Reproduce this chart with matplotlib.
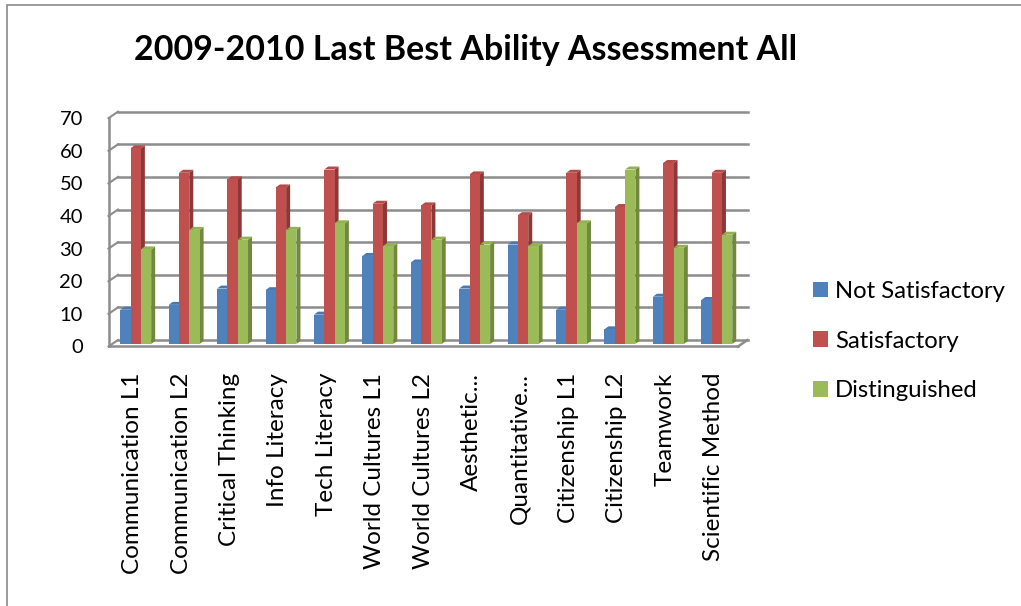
import matplotlib
matplotlib.use("Agg")
import matplotlib.pyplot as plt
from matplotlib.patches import Polygon, Patch, Rectangle
from matplotlib.transforms import ScaledTranslation
import numpy as np

categories = ["Communication L1", "Communication L2", "Critical Thinking", "Info Literacy",
              "Tech Literacy", "World Cultures L1", "World Cultures L2", "Aesthetic...",
              "Quantitative...", "Citizenship L1", "Citizenship L2", "Teamwork", "Scientific Method"]
not_satisfactory = [10.5, 12, 17, 16.5, 9, 27, 25, 17, 30.5, 10.5, 4.5, 14.5, 13.5]
satisfactory = [60, 52.5, 50.5, 48, 53.5, 43, 42.5, 52, 39.5, 52.5, 42, 55.5, 52.5]
distinguished = [29, 35, 32, 35, 37, 30, 32, 30.5, 30, 37, 53.5, 29.5, 33.5]
series_names = ["Not Satisfactory", "Satisfactory", "Distinguished"]
yticks = [0, 10, 20, 30, 40, 50, 60, 70]
title = "2009-2010 Last Best Ability Assessment All"

front_cols = ["#4F81BD", "#C0504D", "#9BBB59"]
side_cols = ["#385D8A", "#8C3836", "#71893F"]
top_cols = ["#4A79B1", "#B44B48", "#92B153"]

W, H = 1021, 606
fig = plt.figure(figsize=(W / 100, H / 100), dpi=100)
plt.rcParams['font.family'] = ['Lato', 'DejaVu Sans']

# chart border
fig.patches.append(Rectangle((7 / W, -0.05), 1.1, 1 - 5 / H + 0.05, transform=fig.transFigure,
                             fill=False, edgecolor="#8a8a8a", linewidth=1.2))

x_left, x_right = 108.5, 738.0
y0_px, y70_px = 346.5, 118.2
ax = fig.add_axes([x_left / W, 1 - y0_px / H, (x_right - x_left) / W, (y0_px - y70_px) / H])
n = len(categories)
ax.set_xlim(-0.5, n - 0.5)
ax.set_ylim(0, 70)
ax.set_facecolor("none")

gray = "#8c8c8c"
px_x = (x_right - x_left) / n
px_y = (y0_px - y70_px) / 70.0

# back wall offset (pixels)
back = ScaledTranslation(9.5 / 100, 6.5 / 100, fig.dpi_scale_trans)
tb = ax.transData + back
for v in yticks:
    ax.plot([-0.5, n - 0.5], [v, v], color=gray, lw=1.8, transform=tb, clip_on=False, zorder=1)
    # left wall diagonal
    ax.plot([-0.5, -0.5 + 9.5 / px_x], [v, v + 6.5 / px_y], color=gray, lw=1.5,
            clip_on=False, zorder=1)
# right floor diagonal
ax.plot([n - 0.5, n - 0.5 + 9.5 / px_x], [0, 6.5 / px_y], color=gray, lw=1.8, clip_on=False, zorder=1)

for s in ["top", "right"]:
    ax.spines[s].set_visible(False)
for s in ["left", "bottom"]:
    ax.spines[s].set_color(gray)
    ax.spines[s].set_linewidth(1.8)

# bars
bar_plane = ax.transData + ScaledTranslation(3 / 100, 2.5 / 100, fig.dpi_scale_trans)
bw = 10.3 / px_x
ddx = 4 / px_x
ddy = 3 / px_y
series = [not_satisfactory, satisfactory, distinguished]
xs = np.arange(n)
for i in range(n):
    for k in range(3):
        h = series[k][i]
        xl = xs[i] - 1.5 * bw + k * bw
        xr = xl + bw
        side = Polygon([(xr, 0), (xr + ddx, ddy), (xr + ddx, h + ddy), (xr, h)], closed=True,
                       facecolor=side_cols[k], edgecolor="none", transform=bar_plane,
                       clip_on=False, zorder=3)
        top = Polygon([(xl, h), (xl + ddx, h + ddy), (xr + ddx, h + ddy), (xr, h)], closed=True,
                      facecolor=top_cols[k], edgecolor="none", transform=bar_plane,
                      clip_on=False, zorder=3)
        ax.add_patch(side)
        ax.add_patch(top)
        ax.bar(xl, h, width=bw, align="edge", color=front_cols[k], transform=bar_plane,
               clip_on=False, zorder=3, linewidth=0)

ax.set_xticks(xs)
ax.set_xticklabels(categories, rotation=90, fontsize=17.5, va="top", ha="center")
ax.set_yticks(yticks)
ax.set_yticklabels([str(v) for v in yticks], fontsize=14.5)
ax.tick_params(axis="x", length=0, pad=19)
ax.tick_params(axis="y", length=0, pad=18.4)

fig.text(466 / W, 1 - 50 / H, title, ha="center", va="center", fontsize=24.5, fontweight="bold")

handles = [Patch(facecolor=c, edgecolor="none") for c in front_cols]
fig.legend(handles, series_names, loc="center left", bbox_to_anchor=(813 / W, 1 - 341 / H),
           frameon=False, fontsize=17.2, handlelength=0.63, handleheight=0.63,
           handletextpad=0.3, labelspacing=1.2, borderpad=0, borderaxespad=0)

fig.savefig("out.png", dpi=100)
